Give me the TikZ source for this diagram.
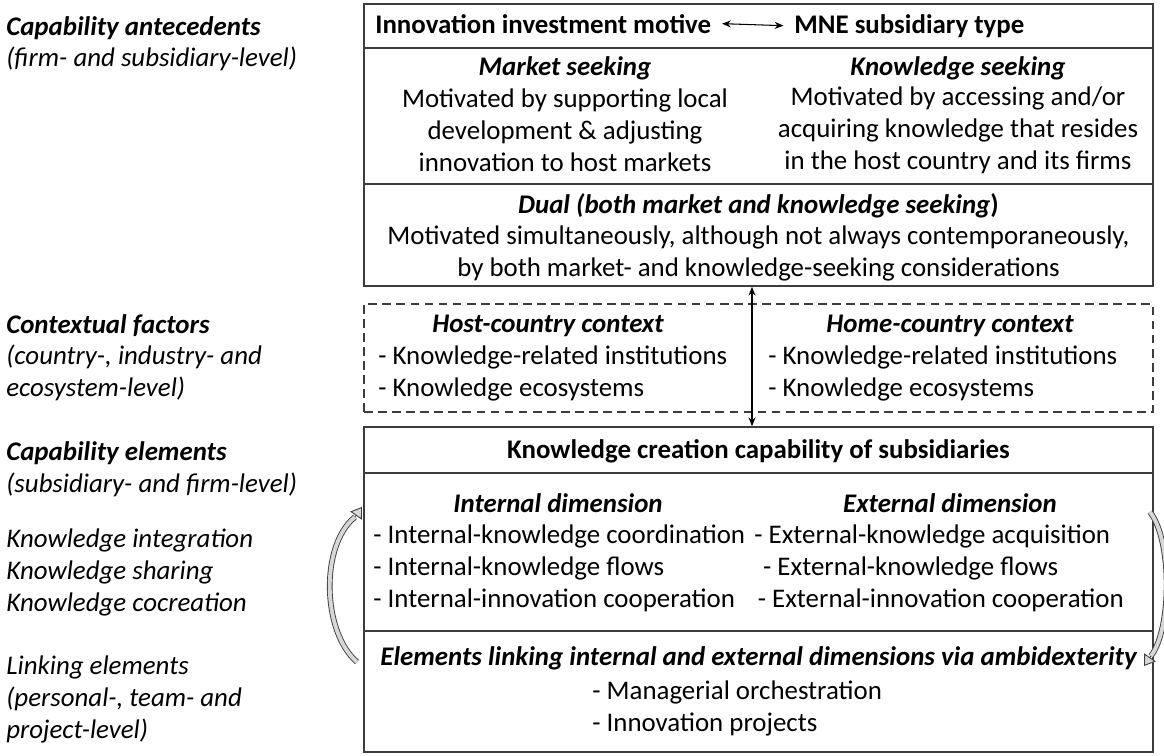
\documentclass[tikz,border=0pt]{standalone}
\usepackage{fontspec}
\setmainfont{Carlito}
\usetikzlibrary{arrows.meta}
\definecolor{rulegray}{RGB}{60,60,60}
\definecolor{bandfill}{RGB}{215,215,215}

\begin{document}
\begin{tikzpicture}[
  x=0.02cm, y=-0.02cm,
  font=\fontsize{15.3}{18.2}\selectfont,
  panel/.style={draw=rulegray, line width=0.9pt, minimum width=15.78cm, inner sep=0pt},
  ctxbox/.style={panel, dashed, dash pattern=on 5pt off 3pt},
  ttl/.style={font=\fontsize{15.3}{18.2}\selectfont\bfseries\itshape, inner sep=0pt},
  hdr/.style={font=\fontsize{15.3}{18.2}\selectfont\bfseries, inner sep=0pt},
  body/.style={align=center, inner sep=0pt},
  items/.style={align=left, anchor=west, inner sep=0pt},
  side/.style={align=left, anchor=west, inner sep=0pt, font=\fontsize{15.3}{18.2}\selectfont\itshape},
  sidettl/.style={side, font=\fontsize{15.3}{18.2}\selectfont\bfseries\itshape},
  duo/.style={{Stealth[length=5pt,width=4pt]}-{Stealth[length=5pt,width=4pt]}, line width=0.6pt},
  turn/.style={line width=0.5pt, draw=rulegray, double=bandfill, double distance=2.2pt},
  turnhead/.style={-{Triangle[open, fill=bandfill, length=6pt, width=8pt]}, line width=0.5pt, draw=rulegray}
]
\useasboundingbox (0,0) rectangle (1164,755);

% left-hand column
\node[sidettl] (antTtl) at (6,28) {Capability antecedents};
\node[side] (antSub) at (6,59) {(firm- and subsidiary-level)};
\node[sidettl] (ctxTtl) at (6,326) {Contextual factors};
\node[side] (ctxSub) at (6,373) {(country-, industry- and\\ecosystem-level)};
\node[sidettl] (capTtl) at (6,453) {Capability elements};
\node[side] (capSub) at (6,485) {(subsidiary- and firm-level)};
\node[side] (kList) at (6,572) {Knowledge integration\\Knowledge sharing\\Knowledge cocreation};
\node[side] (lnkSub) at (6,699) {Linking elements\\(personal-, team- and\\project-level)};

% motive / subsidiary type
\node[panel, minimum height=0.88cm] (motive) at (758.5,26) {};
\node[hdr, anchor=base west] (motTxt) at (375,33) {Innovation investment motive};
\node[hdr, anchor=base west] (typTxt) at (794,33) {MNE subsidiary type};
\draw[duo] ([xshift=6pt]motTxt.east) -- ([xshift=-6pt]typTxt.west);

\node[panel, minimum height=2.72cm] (seek) at (758.5,116) {};
\node[ttl] (mktTtl) at (565,68) {Market seeking};
\node[body] (mktTxt) at (565,130) {Motivated by supporting local\\development \& adjusting\\innovation to host markets};
\node[ttl] (knwTtl) at (958,68) {Knowledge seeking};
\node[body] (knwTxt) at (958,130) {Motivated by accessing and/or\\acquiring knowledge that resides\\in the host country and its firms};

\node[panel, minimum height=2.04cm] (dual) at (758.5,235) {};
\node[ttl] (dualTtl) at (758.5,206) {Dual (both market and knowledge seeking\upshape)};
\node[body] (dualTxt) at (758.5,253) {Motivated simultaneously, although not always contemporaneously,\\by both market- and knowledge-seeking considerations};

% context
\node[ctxbox, minimum height=2.16cm] (ctx) at (758.5,358) {};
\node[ttl] (hostTtl) at (548,326) {Host-country context};
\node[items] (hostTxt) at (378,373) {- Knowledge-related institutions\\- Knowledge ecosystems};
\node[ttl] (homeTtl) at (950,326) {Home-country context};
\node[items] (homeTxt) at (768,373) {- Knowledge-related institutions\\- Knowledge ecosystems};

% knowledge creation capability
\node[panel, minimum height=0.92cm] (kcc) at (758.5,450) {};
\node[hdr] (kccTxt) at (758.5,451) {Knowledge creation capability of subsidiaries};

\node[panel, minimum height=3.16cm] (dims) at (758.5,552) {};
\node[ttl] (intTtl) at (558,503) {Internal dimension};
\node[items] (intTxt) at (373,568) {- Internal-knowledge coordination\\- Internal-knowledge flows\\- Internal-innovation cooperation};
\node[ttl] (extTtl) at (950,503) {External dimension};
\node[items] (extTxt) at (754,568) {- External-knowledge acquisition\\\hspace{5pt}- External-knowledge flows\\\hspace{2pt}- External-innovation cooperation};

\node[panel, minimum height=2.42cm] (amb) at (758.5,691.5) {};
\node[ttl] (ambTtl) at (758.5,658) {Elements linking internal and external dimensions via ambidexterity};
\node[items] (ambTxt) at (592,708) {- Managerial orchestration\\- Innovation projects};

\draw[duo] ([xshift=-0.13cm]dual.south) -- ([xshift=-0.13cm]kcc.north);

% curved loop arrows at the sides
\coordinate (lTail) at (357,662);
\coordinate (lBase) at (355,517);
\coordinate (lTip) at (362,507);
\draw[turn] (lTail) .. controls (322,632) and (320,545) .. (lBase);
\draw[turnhead] (lBase) -- (lTip);

\coordinate (rTail) at (1150,512);
\coordinate (rBase) at (1151,656);
\coordinate (rTip) at (1144,666);
\draw[turn] (rTail) .. controls (1172,540) and (1172,628) .. (rBase);
\draw[turnhead] (rBase) -- (rTip);
\end{tikzpicture}
\end{document}
